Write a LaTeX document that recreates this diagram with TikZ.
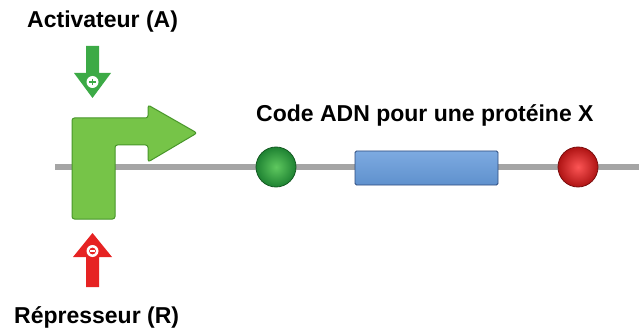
\documentclass[tikz,border=0pt]{standalone}
\usepackage{fontspec}
\setmainfont{Liberation Sans}
\usetikzlibrary{shapes.geometric,calc}
\definecolor{lgreen}{RGB}{118,196,72}
\definecolor{lgreenD}{RGB}{72,150,42}
\definecolor{agreen}{RGB}{60,170,70}
\definecolor{dgreenIn}{RGB}{95,200,95}
\definecolor{dgreenOut}{RGB}{30,130,50}
\definecolor{redIn}{RGB}{252,85,85}
\definecolor{redOut}{RGB}{175,20,20}
\definecolor{aRed}{RGB}{230,35,35}
\definecolor{blueTop}{RGB}{125,170,225}
\definecolor{blueBot}{RGB}{95,145,205}
\definecolor{blueD}{RGB}{45,75,125}
\definecolor{dnagray}{RGB}{165,165,165}
\tikzset{
  lbl/.style={font=\bfseries\fontsize{23}{26}\selectfont, inner sep=0pt, anchor=base west},
  site/.style={circle, minimum size=40pt, inner sep=0pt, line width=0.8pt},
}
\begin{document}
\begin{tikzpicture}[x=1pt,y=-1pt]
\useasboundingbox (0,0) rectangle (639,331);
% DNA line
\coordinate (ls) at (55,167);
\coordinate (le) at (639,167);
\draw[dnagray, line width=6pt] (ls) -- (le);
% L-shaped promoter arrow
\draw[lgreenD, fill=lgreen, line width=1pt, rounded corners=2.5pt]
  (72,118) -- (148,118) -- (148,105) -- (197,133) -- (148,162) -- (148,145)
  -- (115,145) -- (115,219) -- (72,219) -- cycle;
% activator arrow (down)
\fill[agreen] (86,46) -- (99,46) -- (99,73) -- (111,73) -- (92.5,98) -- (74,73) -- (86,73) -- cycle;
\node[circle, fill=white, minimum size=12pt, inner sep=0pt] (plus) at (92.5,82) {};
\draw[agreen, line width=1.8pt] ($(plus)+(-3.2,0)$) -- ($(plus)+(3.2,0)$);
\draw[agreen, line width=1.8pt] ($(plus)+(0,-3.2)$) -- ($(plus)+(0,3.2)$);
% repressor arrow (up)
\fill[aRed] (86,287) -- (99,287) -- (99,257) -- (112,257) -- (92.5,233) -- (73,257) -- (86,257) -- cycle;
\node[circle, fill=white, minimum size=12pt, inner sep=0pt] (minus) at (92.5,251) {};
\fill[aRed] (minus.center) circle (3.4pt);
\draw[white, line width=1.2pt] ($(minus)+(-2.2,0)$) -- ($(minus)+(2.2,0)$);
% sites
\node[site, draw=dgreenOut!70!black, inner color=dgreenIn, outer color=dgreenOut] (gsite) at (276,167) {};
\node[site, draw=redOut!70!black, inner color=redIn, outer color=redOut] (rsite) at (578,167) {};
\node[draw=blueD, line width=0.9pt, top color=blueTop, bottom color=blueBot,
      minimum width=143pt, minimum height=34pt, inner sep=0pt, rounded corners=1.5pt] (gene) at (426.5,168) {};
% labels
\node[lbl] (act) at (27,28) {Activateur (A)};
\node[lbl] (code) at (256,122) {Code ADN pour une protéine X};
\node[lbl] (rep) at (14,323) {Répresseur (R)};
\end{tikzpicture}
\end{document}
